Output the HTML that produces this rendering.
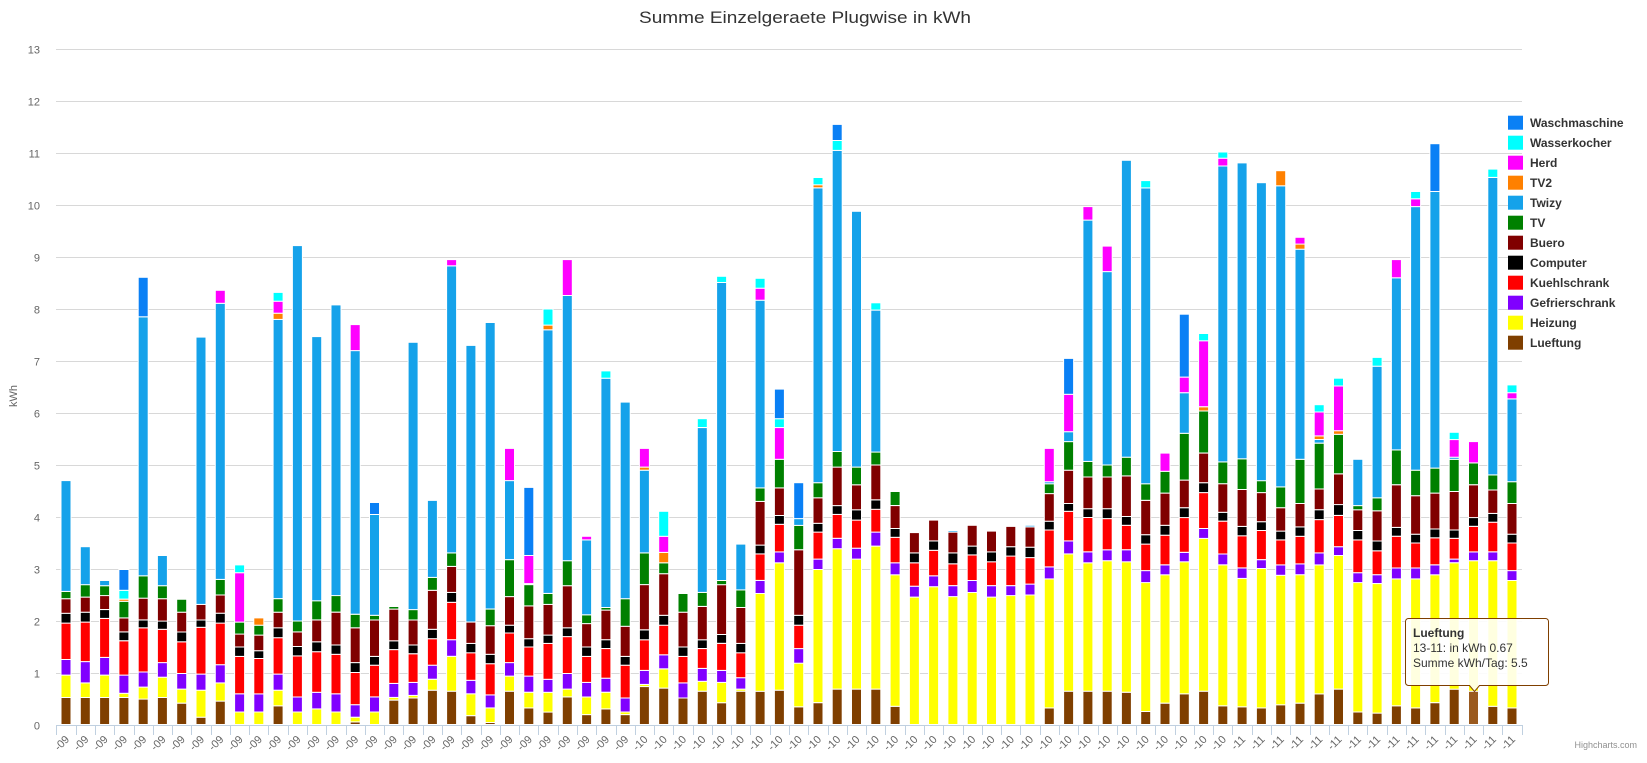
<!DOCTYPE html>
<html><head><meta charset="utf-8"><style>
html,body{margin:0;padding:0;background:#fff;}
svg{display:block;font-family:"Liberation Sans",sans-serif;}
</style></head><body>
<svg id="c" width="1647" height="763" xmlns="http://www.w3.org/2000/svg"></svg>
<script>
var data=[
"L.52,H.95,G1.25,K1.95,C2.14,B2.42,T2.56,W4.69",
"L.52,H.8,G1.21,K1.97,C2.16,B2.45,T2.69,W3.42",
"L.52,H.95,G1.29,K2.04,C2.21,B2.48,T2.67,W2.77",
"L.52,H.6,G.95,K1.61,C1.78,B2.05,T2.37,O2.41,Q2.58,M2.98",
"L.49,H.72,G1.01,K1.86,C2.01,B2.43,T2.86,W7.84,M8.6",
"L.52,H.91,G1.19,K1.83,C1.99,B2.42,T2.67,W3.25",
"L.41,H.68,G.98,K1.59,C1.78,B2.16,T2.41,W2.43",
"L.14,H.66,G.97,K1.87,C2.01,B2.31,W7.45",
"L.45,H.8,G1.15,K1.95,C2.14,B2.49,T2.79,W8.1,E8.35",
"H.24,G.59,K1.31,C1.49,B1.74,T1.97,E2.92,Q3.07",
"H.24,G.59,K1.27,C1.42,B1.72,T1.91,O2.05",
"L.36,H.66,G.97,K1.67,C1.86,B2.16,T2.42,W7.79,O7.91,E8.14,Q8.31",
"H.24,G.53,K1.32,C1.5,B1.78,T1.99,W9.21",
"H.3,G.62,K1.4,C1.59,B2.01,T2.38,W7.46",
"H.24,G.59,K1.35,C1.53,B2.16,T2.48,W8.07",
"L.05,H.14,G.38,K1,C1.19,B1.86,T2.12,W7.19,E7.69",
"H.24,G.53,K1.14,C1.31,B2.01,T2.1,W4.04,M4.27",
"L.47,H.52,G.79,K1.44,C1.61,B2.22,T2.27",
"L.51,H.56,G.81,K1.36,C1.53,B2.01,T2.21,W7.35",
"L.66,H.87,G1.14,K1.65,C1.83,B2.58,T2.83,W4.31",
"L.64,H1.31,G1.63,K2.35,C2.54,B3.04,T3.3,W8.82,E8.94",
"L.17,H.59,G.85,K1.38,C1.56,B1.97,W7.29",
"L.04,H.32,G.57,K1.17,C1.35,B1.9,T2.22,W7.73",
"L.64,H.93,G1.19,K1.76,C1.91,B2.46,T3.17,W4.69,E5.31",
"L.32,H.62,G.93,K1.49,C1.65,B2.28,T2.69,W2.71,E3.25,M4.56",
"L.24,H.62,G.87,K1.56,C1.72,B2.31,T2.52,W7.59,O7.68,Q7.99",
"L.53,H.68,G.98,K1.69,C1.86,B2.67,T3.15,W8.25,E8.94",
"L.19,H.53,G.81,K1.31,C1.49,B1.94,T2.11,W3.55,E3.62",
"L.3,H.62,G.89,K1.46,C1.63,B2.2,T2.25,W6.66,Q6.8",
"L.19,H.24,G.51,K1.14,C1.31,B1.89,T2.42,W6.2",
"L.73,H.77,G1.04,K1.63,C1.82,B2.69,T3.3,W4.89,O4.95,E5.31",
"L.7,H1.07,G1.34,K1.91,C2.1,B2.9,T3.11,O3.31,E3.62,Q4.1",
"L.51,G.8,K1.31,C1.49,B2.16,T2.52,W2.54",
"L.64,H.83,G1.08,K1.46,C1.63,B2.27,T2.54,W5.71,Q5.88",
"L.42,H.81,G1.04,K1.56,C1.73,B2.69,T2.77,W8.5,Q8.62",
"L.64,H.68,G.9,K1.38,C1.56,B2.25,T2.59,W3.47",
"L.64,H2.52,G2.77,K3.28,C3.45,B4.29,T4.55,W8.16,E8.39,Q8.58",
"L.66,H3.11,G3.32,K3.85,C4.02,B4.55,T5.1,E5.71,Q5.88,M6.45",
"L.34,H1.18,G1.46,K1.91,C2.1,B3.36,T3.83,W3.96,M4.65",
"L.42,H2.98,G3.18,K3.7,C3.87,B4.36,T4.65,W10.32,O10.38,Q10.52",
"L.68,H3.38,G3.58,K4.04,C4.21,B4.95,T5.25,W11.04,Q11.23,M11.54",
"L.68,H3.18,G3.39,K3.93,C4.13,B4.61,T4.95,W9.87",
"L.68,H3.43,G3.7,K4.14,C4.32,B4.99,T5.24,W7.97,Q8.11",
"L.35,H2.88,G3.11,K3.6,C3.77,B4.21,T4.48",
"H2.45,G2.66,K3.11,C3.3,B3.69",
"H2.65,G2.86,K3.35,C3.53,B3.93",
"H2.46,G2.67,K3.09,C3.3,B3.7,W3.73",
"H2.54,G2.77,K3.26,C3.43,B3.83",
"H2.45,G2.67,K3.13,C3.32,B3.72,W3.74",
"H2.48,G2.67,K3.24,C3.42,B3.81",
"H2.49,G2.7,K3.21,C3.41,B3.8,W3.83",
"L.32,H2.8,G3.03,K3.74,C3.91,B4.44,T4.63,W4.67,E5.31",
"L.64,H3.28,G3.53,K4.1,C4.25,B4.89,T5.44,W5.63,E6.35,M7.04",
"L.64,H3.11,G3.32,K3.98,C4.15,B4.76,T5.06,W9.7,E9.96",
"L.64,H3.15,G3.36,K3.96,C4.15,B4.76,T4.99,W8.71,E9.2",
"L.62,H3.13,G3.36,K3.83,C4,B4.78,T5.14,W10.85",
"L.25,H2.73,G2.96,K3.47,C3.65,B4.31,T4.63,W10.32,Q10.46",
"L.41,H2.88,G3.07,K3.64,C3.83,B4.45,T4.87,E5.22",
"L.59,H3.13,G3.31,K3.98,C4.17,B4.7,T5.6,W6.38,E6.68,M7.89",
"L.64,H3.58,G3.77,K4.46,C4.65,B5.22,T6.03,O6.11,E7.38,Q7.52",
"L.36,H3.07,G3.28,K3.91,C4.08,B4.63,T5.05,W10.74,E10.89,Q11.01",
"L.34,H2.81,G3.01,K3.63,C3.81,B4.52,T5.11,W10.8",
"L.32,H3,G3.17,K3.73,C3.9,B4.46,T4.69,W10.42",
"L.38,H2.87,G3.07,K3.55,C3.72,B4.17,T4.57,W10.36,O10.65",
"L.41,H2.88,G3.09,K3.62,C3.8,B4.25,T5.1,W9.14,O9.24,E9.37",
"L.59,H3.07,G3.3,K3.94,C4.13,B4.53,T5.41,W5.48,O5.55,E6.01,Q6.15",
"L.68,H3.25,G3.42,K4.02,C4.23,B4.82,T5.58,O5.65,E6.51,Q6.66",
"L.24,H2.73,G2.92,K3.55,C3.73,B4.13,T4.21,W5.1",
"L.22,H2.71,G2.88,K3.34,C3.53,B4.11,T4.36,W6.89,Q7.06",
"L.36,H2.8,G3.01,K3.62,C3.79,B4.61,T5.28,W8.59,E8.94",
"L.32,H2.8,G3.01,K3.49,C3.66,B4.4,T4.89,W9.96,E10.11,Q10.25",
"L.42,H2.88,G3.07,K3.59,C3.76,B4.45,T4.93,W10.25,M11.17",
"L.68,H3.11,G3.18,K3.58,C3.74,B4.48,T5.1,W5.14,E5.48,Q5.62",
"L.64,H3.15,G3.32,K3.81,C3.98,B4.61,T5.03,E5.44",
"L.35,H3.15,G3.32,K3.89,C4.06,B4.51,T4.8,W10.52,Q10.68",
"L.32,H2.77,G2.96,K3.49,C3.66,B4.25,T4.67,W6.26,E6.38,Q6.53"
];
var col={L:"#7f3f00",H:"#ffff00",G:"#8000ff",K:"#ff0000",C:"#000000",B:"#800000",T:"#008000",W:"#15a2ea",O:"#ff8000",E:"#ff00ff",Q:"#00ffff",M:"#0a80f5"};
var Y0=724.5,U=52,X0=56.4,CW=19.28;
function y(v){return Y0-v*U;}
var s='';
// title
s+='<text x="805" y="23" text-anchor="middle" font-size="17" fill="#333" textLength="332" lengthAdjust="spacingAndGlyphs">Summe Einzelgeraete Plugwise in kWh</text>';
// grid
for(var i=0;i<=13;i++){var yy=Math.round(y(i))+0.5;
 if(i>0)s+='<line x1="56" x2="1522" y1="'+yy+'" y2="'+yy+'" stroke="#d8d8d8" stroke-width="1"/>';
 s+='<text x="40" y="'+(yy+4)+'" text-anchor="end" font-size="11" fill="#666">'+i+'</text>';}
s+='<text transform="translate(17,396) rotate(-90)" text-anchor="middle" font-size="11" fill="#666">kWh</text>';
// bars
for(var b=0;b<data.length;b++){
 var cx=X0+CW*(b+0.5),prev=0,parts=data[b].split(',');
 for(var p=0;p<parts.length;p++){
  var k=parts[p][0],v=parseFloat(parts[p].slice(1));
  var c=col[k];
  if(b==73&&k=='L')c='#9a5a1f';
  var t=y(v),bt=y(prev);
  s+='<rect x="'+(cx-5).toFixed(1)+'" y="'+t.toFixed(1)+'" width="10" height="'+(bt-t).toFixed(1)+'" fill="'+c+'" stroke="#fff" stroke-width="1"/>';
  prev=v;}
}
// x axis
s+='<line x1="56" x2="1522" y1="725.5" y2="725.5" stroke="#C0D0E0" stroke-width="1"/>';
for(var b=0;b<=76;b++){var xx=Math.round(X0+CW*b)+0.5;
 s+='<line x1="'+xx+'" x2="'+xx+'" y1="725" y2="735" stroke="#C0D0E0" stroke-width="1"/>';}
for(var b=0;b<76;b++){var cx=X0+CW*(b+0.5);var m=b<30?'09':(b<61?'10':'11');
 s+='<text transform="translate('+(cx+4).toFixed(1)+',740) rotate(-45)" text-anchor="end" font-size="11" fill="#666">-'+m+'</text>';}
// legend
var leg=[["Waschmaschine","M"],["Wasserkocher","Q"],["Herd","E"],["TV2","O"],["Twizy","W"],["TV","T"],["Buero","B"],["Computer","C"],["Kuehlschrank","K"],["Gefrierschrank","G"],["Heizung","H"],["Lueftung","L"]];
for(var i=0;i<leg.length;i++){var ly=122.7+20*i;
 s+='<rect x="1508" y="'+(ly-7)+'" width="15" height="14" fill="'+col[leg[i][1]]+'"/>';
 s+='<text x="1530" y="'+(ly+4.5)+'" font-size="12" font-weight="bold" fill="#333">'+leg[i][0]+'</text>';}
// tooltip
s+='<path d="M1408.5,618.5 h137 a3,3 0 0 1 3,3 v61 a3,3 0 0 1 -3,3 h-66 l-5,6 l-5,-6 h-61 a3,3 0 0 1 -3,-3 v-61 a3,3 0 0 1 3,-3z" fill="rgba(255,255,255,0.88)" stroke="#7f3f00" stroke-width="1"/>';
s+='<text x="1413" y="637" font-size="12" font-weight="bold" fill="#333">Lueftung</text>';
s+='<text x="1413" y="652" font-size="12" fill="#333">13-11: in kWh 0.67</text>';
s+='<text x="1413" y="667" font-size="12" fill="#333">Summe kWh/Tag: 5.5</text>';
s+='<text x="1637" y="748" text-anchor="end" font-size="9" fill="#909090">Highcharts.com</text>';
document.getElementById('c').innerHTML=s;
</script>
</body></html>
